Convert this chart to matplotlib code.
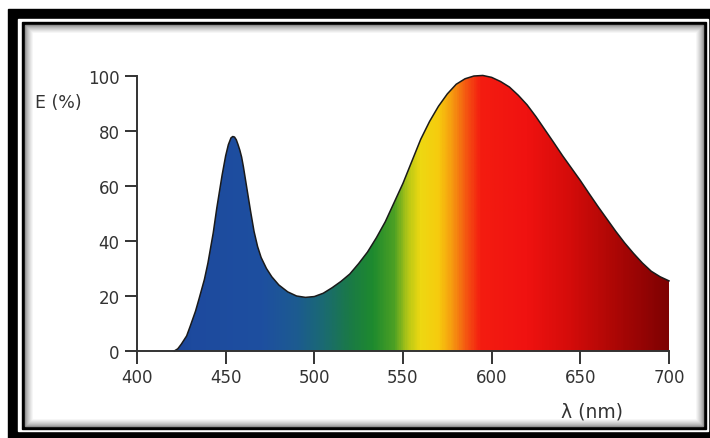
import matplotlib.pyplot as plt
import numpy as np
from matplotlib.colors import LinearSegmentedColormap
from matplotlib.patches import Rectangle, Polygon

# emission spectrum
wavelength = [421, 423, 425, 428, 430, 433, 435, 438, 440, 443, 445, 448, 450, 451.5,
              453, 454, 455, 456, 457, 458, 459, 460, 462, 464, 466, 468, 470, 473,
              476, 480, 485, 490, 495, 500, 505, 510, 515, 520, 525, 530, 535, 540,
              545, 550, 555, 560, 565, 570, 575, 580, 585, 590, 595, 600, 605, 610,
              615, 620, 625, 630, 635, 640, 645, 650, 655, 660, 665, 670, 675, 680,
              685, 690, 695, 700]
energy = [0, 0.8, 2.5, 5.5, 9, 14.5, 19, 26, 32, 43, 52, 64, 71, 75,
          77.5, 78, 77.8, 76.8, 75, 73, 70.5, 67, 59, 51, 43.5, 38, 34, 30,
          27, 24, 21.5, 20, 19.5, 19.8, 21, 23, 25.3, 28, 31.8, 36, 41.2, 47,
          54, 61, 69, 77, 83.5, 89, 93.5, 97, 99, 100, 100.2, 99.5, 98, 96,
          93, 89.5, 85.2, 80.5, 75.8, 71, 66.5, 62, 57.2, 52.5, 48, 43.5, 39.3, 35.5,
          32, 29, 27, 25.5]

# spectrum colours used for the fill
stop_nm = [400, 430, 470, 490, 505, 520, 533, 545, 553, 560, 570, 578, 586, 594,
           620, 645, 665, 685, 700]
stop_col = ['#1b3a8c', '#1d4a9e', '#1e4fa0', '#1c5b90', '#1a6a72', '#1a7a46',
            '#1e8a2e', '#4ca024', '#b8c816', '#eed812', '#f6cc0e', '#f69a10',
            '#f45412', '#f41c10', '#f01210', '#d40c0a', '#b40806', '#960404', '#7e0202']

xticks = [400, 450, 500, 550, 600, 650, 700]
yticks = [0, 20, 40, 60, 80, 100]

fig = plt.figure(figsize=(7.1, 4.39), dpi=100)

# picture frame, drawn in pixel units
bg = fig.add_axes([0, 0, 1, 1])
bg.set_xlim(0, 710)
bg.set_ylim(439, 0)
bg.axis('off')
bg.add_patch(Rectangle((8, 10), 720, 440, color='black'))
bg.add_patch(Rectangle((18, 20), 690, 412, color='white'))
bg.add_patch(Rectangle((22, 23), 684, 407, color='black'))
for i in range(9):
    g = 0.55 + 0.45 * (i / 8) ** 0.7
    bg.add_patch(Rectangle((25 + i, 26 + i), 678 - 2 * i, 401 - 2 * i, color=str(g)))

ax = fig.add_axes([137 / 710, 87 / 439, 532 / 710, 275 / 439])
ax.patch.set_alpha(0)

cmap = LinearSegmentedColormap.from_list(
    'spec', [((n - 400) / 300, c) for n, c in zip(stop_nm, stop_col)])
grad = np.linspace(400, 700, 600).reshape(1, -1)
img = ax.imshow(grad, extent=[400, 700, 0, 100], aspect='auto', cmap=cmap,
                vmin=400, vmax=700, origin='lower', interpolation='bilinear')
shape = Polygon(list(zip(wavelength, energy)) + [(700, 0), (421, 0)], closed=True,
                facecolor='none', edgecolor='none')
ax.add_patch(shape)
img.set_clip_path(shape)

ax.plot(wavelength, energy, color='#1a1a1a', lw=1.1, clip_on=False,
        solid_joinstyle='round')

ax.set_xlim(400, 700)
ax.set_ylim(0, 100)
ax.set_xticks(xticks)
ax.set_yticks(yticks)
for s in ['top', 'right']:
    ax.spines[s].set_visible(False)
for s in ['left', 'bottom']:
    ax.spines[s].set_color('#333333')
    ax.spines[s].set_linewidth(1.4)
ax.tick_params(direction='out', length=9, width=1.4, color='#333333',
               labelsize=12, labelcolor='#333333', pad=3.5)

bg.text(35, 103, 'E (%)', ha='left', va='center', fontsize=12.5, color='#333333')
bg.text(592, 412, 'λ (nm)', ha='center', va='center', fontsize=13.5, color='#333333')

plt.savefig('out.png', dpi=100)
plt.close()
